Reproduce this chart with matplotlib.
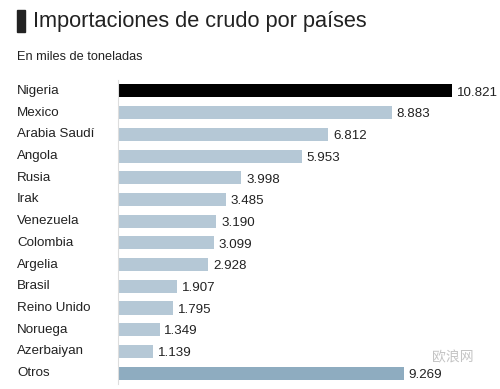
import matplotlib.pyplot as plt
from matplotlib.patches import Rectangle

plt.rcParams['font.family'] = ['Liberation Sans', 'DejaVu Sans']

paises = ['Nigeria', 'Mexico', 'Arabia Saudí', 'Angola', 'Rusia', 'Irak', 'Venezuela',
          'Colombia', 'Argelia', 'Brasil', 'Reino Unido', 'Noruega', 'Azerbaiyan', 'Otros']
valores = [10.821, 8.883, 6.812, 5.953, 3.998, 3.485, 3.190,
           3.099, 2.928, 1.907, 1.795, 1.349, 1.139, 9.269]
etiquetas = ['10.821', '8.883', '6.812', '5.953', '3.998', '3.485', '3.190',
             '3.099', '2.928', '1.907', '1.795', '1.349', '1.139', '9.269']

colores = ['#000000'] + ['#b5c8d6'] * 12 + ['#8eacc0']

fig = plt.figure(figsize=(5, 3.89), dpi=100)
fig.patch.set_facecolor('white')

ax = fig.add_axes([0.236, 0.013, 0.764, 0.781])
y = list(range(len(paises)))
ax.barh(y, valores, height=0.6, color=colores)
ax.set_ylim(len(paises) - 0.5, -0.5)
ax.set_xlim(0, 382 / 30.87)

for i, (v, t) in enumerate(zip(valores, etiquetas)):
    ax.text(v + 0.15, i + 0.08, t, va='center', ha='left', fontsize=9.6,
            color='#222222', clip_on=False)

for i, p in enumerate(paises):
    fig.text(17 / 500, 1 - (91 + i * 21.7) / 389, p, va='center', ha='left',
             fontsize=9.6, color='#222222')

for s in ['top', 'right', 'bottom']:
    ax.spines[s].set_visible(False)
ax.spines['left'].set_color('#dddddd')
ax.spines['left'].set_linewidth(0.8)
ax.set_xticks([])
ax.set_yticks([])

fig.patches.append(Rectangle((17 / 500, 1 - 32 / 389), 8 / 500, 22 / 389,
                             transform=fig.transFigure, color='#222222'))
fig.text(33 / 500, 1 - 21 / 389, 'Importaciones de crudo por países', va='center',
         ha='left', fontsize=15.7, color='#222222')
fig.text(17 / 500, 1 - 57 / 389, 'En miles de toneladas', va='center', ha='left',
         fontsize=9.2, color='#222222')

fig.text(432 / 500, 1 - 357 / 389, '欧浪网', va='center', ha='left', fontsize=10,
         color='#c4c4c4', family=['Noto Sans CJK SC', 'DejaVu Sans'])

fig.savefig('out.png', dpi=100)
